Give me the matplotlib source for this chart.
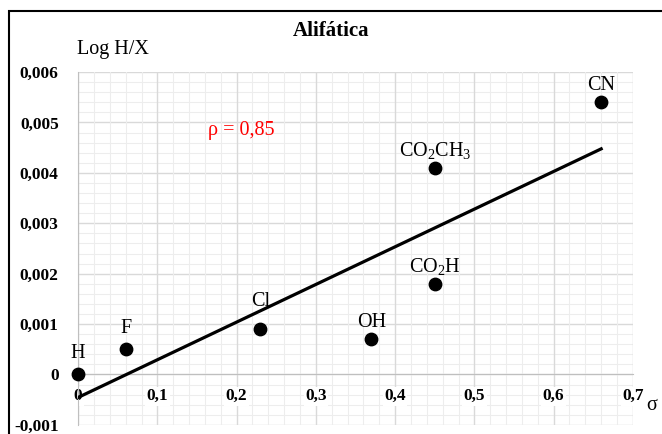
import numpy as np
import matplotlib.pyplot as plt
from matplotlib.ticker import MultipleLocator, FuncFormatter
from matplotlib.patches import Rectangle

plt.rcParams['font.family'] = ['Liberation Serif', 'DejaVu Serif']
plt.rcParams['mathtext.fontset'] = 'custom'
plt.rcParams['mathtext.rm'] = 'Liberation Serif'

# data
labels = ['H', 'F', 'Cl', 'OH', r'CO$\mathregular{_2}$H', r'CO$\mathregular{_2}$CH$\mathregular{_3}$', 'CN']
sigma = [0.0, 0.06, 0.23, 0.37, 0.45, 0.45, 0.66]
log_hx = [0.0, 0.0005, 0.0009, 0.0007, 0.0018, 0.0041, 0.0054]
label_offsets = [8, 8, 13, 5, 5, 5, 5]  # points above each marker

slope, intercept = np.polyfit(sigma, log_hx, 1)
line_x = np.array([0.0, max(sigma)])

fig = plt.figure(figsize=(6.62, 4.34), dpi=100)
ax = fig.add_axes([0.118, 0.021, 0.838, 0.813])

ax.set_xlim(0, 0.7)
ax.set_ylim(-0.001, 0.006)
ax.xaxis.set_major_locator(MultipleLocator(0.1))
ax.xaxis.set_minor_locator(MultipleLocator(0.02))
ax.yaxis.set_major_locator(MultipleLocator(0.001))
ax.yaxis.set_minor_locator(MultipleLocator(0.0002))

def fmt(dec):
    def f(v, pos):
        if abs(v) < 1e-12:
            return '0'
        return f'{v:.{dec}f}'.replace('.', ',')
    return FuncFormatter(f)

ax.xaxis.set_major_formatter(fmt(1))
ax.yaxis.set_major_formatter(fmt(3))

ax.grid(which='major', color='#d9d9d9', linewidth=1.0)
ax.grid(which='minor', color='#ededed', linewidth=0.8)
ax.set_axisbelow(True)
# y grid first, so the x labels (white patch) sit on top of it
ax.yaxis.set_zorder(0.4)
ax.xaxis.set_zorder(0.6)

for s in ['top', 'right']:
    ax.spines[s].set_visible(False)
ax.spines['bottom'].set_position(('data', 0))
ax.spines['left'].set_position(('data', 0))
ax.spines['bottom'].set_color('#bfbfbf')
ax.spines['left'].set_color('#bfbfbf')
ax.tick_params(which='both', length=0, labelsize=12.5)
ax.tick_params(axis='x', pad=10)
ax.tick_params(axis='y', pad=14)

ax.plot(line_x, intercept + slope * line_x, color='black', linewidth=2.3, zorder=3)
ax.scatter(sigma, log_hx, s=80, color='black', zorder=4, clip_on=False)

for x, y, lab, off in zip(sigma, log_hx, labels, label_offsets):
    ax.annotate(lab, (x, y), xytext=(0, off), textcoords='offset points',
                ha='center', va='bottom', fontsize=14.5)

ax.text(0.164, 0.00485, 'ρ = 0,85', color='red', fontsize=14.5, va='center')

fig.text(0.5, 0.928, 'Alifática', ha='center', va='center', fontsize=15, fontweight='bold')
fig.text(0.117, 0.885, 'Log H/X', ha='left', va='center', fontsize=14.5)
fig.text(0.985, 0.065, 'σ', ha='center', va='center', fontsize=14.5)

fig.patches.append(Rectangle((9 / 662, -0.05), 1.2, 1 - 11 / 434 + 0.05,
                             transform=fig.transFigure, fill=False,
                             edgecolor='black', linewidth=1.5))

# tick labels: bold, x labels on a white patch over the grid
fig.canvas.draw()
for tick in ax.xaxis.get_major_ticks():
    tick.label1.set_fontweight('bold')
    tick.label1.set_bbox(dict(facecolor='white', edgecolor='none', pad=1))
for tick in ax.yaxis.get_major_ticks():
    tick.label1.set_fontweight('bold')

fig.savefig('out.png', dpi=100)
